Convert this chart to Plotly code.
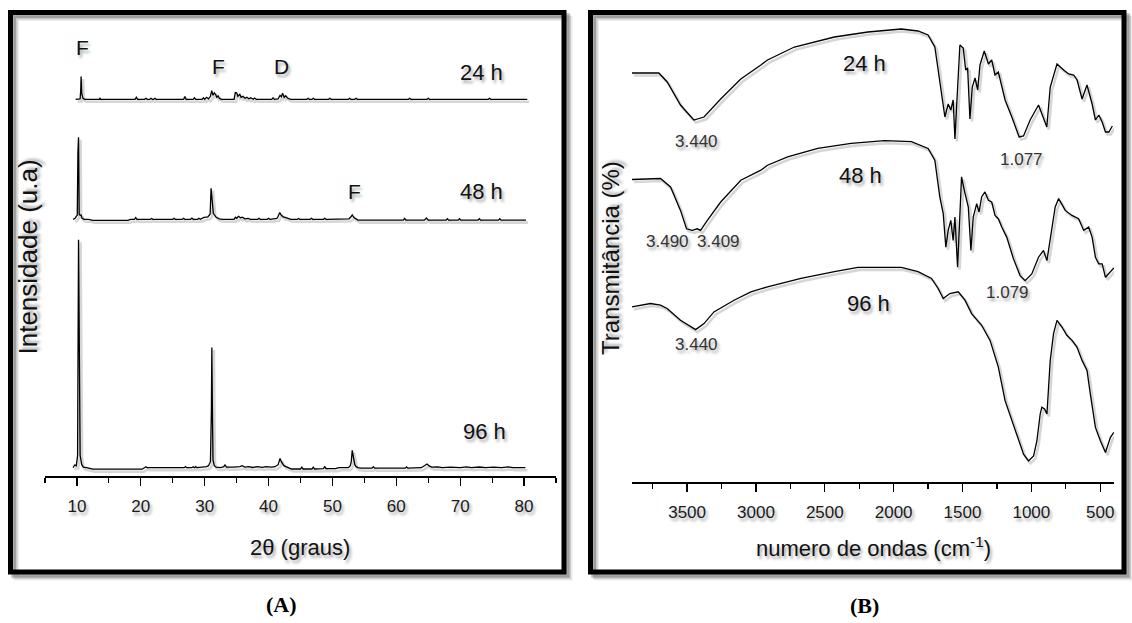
import plotly.graph_objects as go

W, H = 1132, 623

# ---------------- (A) XRD data: (2theta, intensity above baseline) ----------------
xrd_24h = [(9.8,0),(10.5,0.5),(10.6,10),(10.65,22.7),(10.75,6),(10.95,1),(11.2,0),
    (13.5,0),(13.6,1),(13.7,0),(19.1,0),(19.3,2),(19.5,0),
    (20.6,0),(20.8,1),(21.0,0),(21.4,0),(21.6,1),(21.8,0),(22.0,0),(22.2,1),(22.4,0),
    (26.7,0),(26.9,2.7),(27.1,0),(28.2,0),(28.4,1.5),(28.6,0),(29.6,0),(29.8,1.5),(30.0,0),(30.3,2),(30.6,0.5),
    (30.9,3),(31.1,8.6),(31.3,4),(31.5,6.5),(31.7,5),(31.9,2),(32.1,3.5),(32.3,1),(32.6,0),
    (34.6,0),(34.8,6.7),(35.0,6.5),(35.2,3),(35.5,5),(35.7,2),(36.0,3),(36.3,1),(36.6,2),(36.9,0.5),(37.2,1.5),(37.6,0),(37.8,1.2),(38.1,0),
    (40.5,0),(40.7,1.5),(40.9,0),(41.5,0.5),(41.8,4),(42.0,2.5),(42.2,6),(42.45,2),(42.7,3.5),(43.0,1),(43.5,0),
    (46.0,0),(46.2,1),(46.4,0),(46.8,0),(47.0,1),(47.2,0),(49.4,0),(49.6,1),(49.8,0),
    (52.5,0),(52.7,1),(52.9,0),(53.5,0),(53.7,1),(53.9,0),(61.9,0),(62.1,1),(62.3,0),
    (64.8,0),(65.0,1),(65.2,0),(74.4,0),(74.6,1),(74.8,0),(80.5,0)]

xrd_48h = [(9.4,0),(9.7,1),(9.9,3),(10.05,4),(10.15,66),(10.25,82),(10.35,5),(10.5,4),(10.65,4.3),(10.8,1),(11.1,0),(11.8,0),
    (12.5,-1),(18.0,-1),(18.4,0),(19.0,0),(19.2,1.7),(19.4,0),
    (21.5,0),(21.7,0.8),(21.9,0),(25.0,0),(25.2,1),(25.4,0),(26.5,0),(26.7,1),(26.9,0),(27.8,0),(28.0,1.2),(28.2,0),(28.9,0),(29.1,1),(29.3,0),
    (29.9,2),(30.5,2.5),(30.85,5),(31.0,31),(31.1,20),(31.2,17),(31.35,6),(31.6,3),(31.8,2),(32.3,0.5),(32.8,0),
    (34.6,0),(34.8,2),(35.0,1),(35.3,3),(35.6,1.5),(35.9,2.2),(36.3,0.5),(36.8,1),(37.2,0),
    (38.3,0),(38.5,1),(38.7,0),(39.8,0),(40.0,1),(40.2,0),
    (41.3,1),(41.5,3),(41.75,6.7),(42.0,4),(42.3,2.5),(42.6,2),(43.0,1),(43.5,0),
    (44.5,0),(44.7,0.8),(44.9,0),(46.5,0),(46.7,1),(46.9,0),(48.6,0),(48.8,1),(49.0,0),(50.4,0),(50.6,0.6),(50.8,0),
    (52.6,0.5),(52.9,2.5),(53.1,4.3),(53.4,1.5),(53.7,0),(54.0,-0.8),(61.1,-0.8),(61.3,1),(61.5,-0.8),
    (64.4,-0.8),(64.7,1.3),(65.0,-0.8),(67.8,-0.8),(68.0,0.6),(68.2,-0.8),(69.7,-0.8),(69.9,0.5),(70.1,-0.8),
    (72.8,-0.8),(73.0,0.6),(73.2,-0.8),(76.0,-0.8),(76.2,0.5),(76.4,-0.8),(80.3,-0.8)]

xrd_96h = [(9.4,0),(9.65,2.7),(9.9,2),(10.1,12),(10.25,228),(10.35,100),(10.5,12.7),(10.75,3),(11.0,0.5),(11.5,0),
    (12.5,-1.5),(20.2,-1.5),(20.6,0),(20.8,1),(21.0,0),(22.5,0),(22.7,0.7),(22.9,0),(24.0,0),(24.2,0.7),(24.4,0),
    (26.8,0),(27.0,1),(27.2,0),(28.0,0),(28.2,1),(28.4,0),(28.6,1),(28.8,0),
    (30.3,1),(30.6,2),(30.9,6),(31.05,57),(31.12,120.3),(31.2,62.7),(31.3,8),(31.5,2),(31.8,0.5),(32.5,0),
    (33.0,1),(33.2,3),(33.4,0.5),(34.5,0.5),(35.5,1),(35.9,2),(36.3,0.5),(36.9,1),(37.5,0.2),(38.3,1),(39.0,0.3),(39.6,1),(40.5,0.5),(41.0,1),
    (41.5,3),(41.8,9.3),(42.0,6),(42.4,2),(42.8,1),(43.2,0),(43.6,-1.3),(45.0,-1.3),(45.2,0.5),(45.4,-1.3),
    (46.8,-1.3),(47.0,0.6),(47.2,-1.3),(48.6,-1),(48.8,1),(49.0,-1),(50.5,-1),(51.0,0),(52.5,0),
    (52.8,2),(52.95,6),(53.1,17.3),(53.3,10),(53.5,3),(53.7,1),(54.0,0),(54.5,-0.5),(56.2,-0.5),(56.4,1),(56.6,-0.5),
    (61.4,-0.5),(61.6,0.7),(61.8,-0.5),(63.9,0),(64.4,2),(64.8,3.7),(65.2,1.5),(65.6,0.5),(66.5,0.8),(67.2,0),
    (68.5,0.5),(70.0,0),(71.0,0.8),(71.8,0),(73.0,0.7),(74.0,0),(75.2,0.5),(76.5,0),(77.5,0.8),(78.3,0),(80.2,0)]

# ---------------- (B) FTIR data: (wavenumber, transmittance a.u.) ----------------
ftir_24h = [(3900,159),(3705,159),(3644,150),(3548,127),(3451,112),(3377,115),(3256,133),(3110,153),(2964,167),
    (2916,172),(2721,185),(2430,195),(2187,200),(1944,203),(1823,201),(1750,197),(1701,185),(1677,162),(1640,128),
    (1628,115),(1604,128),(1585,122),(1568,132),(1555,93),(1543,125),(1519,187),(1495,184),(1477,162),(1463,164),
    (1446,113),(1429,145),(1409,154),(1390,142),(1373,167),(1342,181),(1312,168),(1288,172),(1264,157),(1240,160),
    (1191,132),(1142,115),(1089,95),(1057,96),(1009,112),(948,127),(924,118),(888,105),(863,145),(814,168),(766,162),
    (729,158),(693,157),(668,152),(632,133),(596,147),(559,128),(535,112),(510,117),(486,110),(462,100),(437,100),(412,106)]

ftir_48h = [(3900,182.5),(3693,183.5),(3620,175),(3548,151.6),(3504,133.2),(3462,131.6),(3426,133.2),(3402,131.6),
    (3353,141.6),(3256,160),(3110,181.8),(2964,191.8),(2916,196.8),(2770,205.2),(2551,213.6),(2309,218.6),(2066,221.3),
    (1871,220.3),(1750,213.6),(1701,201.9),(1665,165),(1640,148.3),(1621,114.8),(1604,131.6),(1585,141.6),(1568,121.5),
    (1555,145),(1536,94.7),(1524,131.6),(1507,185.1),(1487,171.7),(1470,160),(1458,155),(1439,111.5),(1422,145),
    (1397,158.3),(1380,150),(1361,165),(1337,170.1),(1312,161.7),(1288,160),(1264,146.6),(1240,143.3),(1215,134.9),
    (1179,124.9),(1130,103.1),(1082,86.4),(1045,81.3),(997,88),(948,104.8),(912,111.5),(887,101.4),(863,124.9),
    (827,155),(802,163.4),(754,151.6),(705,146.6),(657,143.3),(620,131.6),(584,134.9),(559,124.9),(535,104.8),
    (511,98.1),(486,98.1),(462,84.7),(438,88),(401,94.1)]

ftir_96h = [(3900,175.1),(3766,178.5),(3693,176.8),(3645,173.5),(3548,161.7),(3438,152.4),(3377,158.4),(3305,170.1),
    (3159,181.8),(3037,190.2),(2916,195.2),(2867,196.9),(2673,203.6),(2430,210.3),(2260,214.6),(1944,214.6),(1823,210.3),
    (1725,203.6),(1677,193.5),(1640,183.5),(1592,188.5),(1531,190.2),(1482,181.8),(1434,168.4),(1361,156.7),(1300,141.6),
    (1240,114.9),(1191,81.4),(1142,61.3),(1094,41.2),(1057,27.8),(1021,21.1),(984,26.1),(960,41.2),(936,68),(924,74.7),
    (904,73),(887,68),(863,121.6),(839,148.3),(814,161.7),(778,155),(742,146.7),(705,141.6),(669,135),(632,121.6),
    (596,111.5),(572,88.1),(535,54.6),(499,41.2),(462,29.5),(426,44.6),(401,49.6)]

xrd_ticks = [10, 20, 30, 40, 50, 60, 70, 80]
ftir_ticks = [3500, 3000, 2500, 2000, 1500, 1000, 500]
ftir_minor = [3750, 3250, 2750, 2250, 1750, 1250, 750]

# ---------------- layout helpers (pixel -> paper) ----------------
def fx(p):
    return p / W

def fy(p):
    return 1 - p / H

FONT = "Liberation Sans, Arial, sans-serif"
SHADOW = "2px 3px 3px rgba(0,0,0,0.35)"

xrd_offsets = {"24h": 376.7, "48h": 256.7, "96h": 8.3}
ftir_offsets = {"24h": 250, "48h": 120, "96h": 0}

# panel geometry (pixels)
A_X0, A_X1, A_YB, A_YT = 45, 556, 476, 20
B_X0, B_X1, B_YB, B_YT = 632, 1114, 482, 22
A_RANGE = (5, 85)
B_RANGE = (3900, 400)

# shadow offsets converted to data units
a_sx = 2.0 * (A_RANGE[1] - A_RANGE[0]) / (A_X1 - A_X0)
b_sx = 2.0 * (B_RANGE[1] - B_RANGE[0]) / (B_X1 - B_X0)

fig = go.Figure()

def add_series(series, off, xa, ya, sx, sy):
    xs = [p[0] for p in series]
    ys = [p[1] + off for p in series]
    fig.add_trace(go.Scatter(x=[v + sx for v in xs], y=[v - sy for v in ys], mode="lines", xaxis=xa, yaxis=ya,
                             line=dict(color="rgba(0,0,0,0.16)", width=2.6), showlegend=False, hoverinfo="skip"))
    fig.add_trace(go.Scatter(x=xs, y=ys, mode="lines", xaxis=xa, yaxis=ya,
                             line=dict(color="black", width=1.3), showlegend=False, hoverinfo="skip"))

for key, series in [("24h", xrd_24h), ("48h", xrd_48h), ("96h", xrd_96h)]:
    add_series(series, xrd_offsets[key], "x", "y", a_sx, 2.5)

for key, series in [("24h", ftir_24h), ("48h", ftir_48h), ("96h", ftir_96h)]:
    add_series(series, ftir_offsets[key], "x2", "y2", b_sx, 2.5)

tickfont = dict(family=FONT, size=17, color="#1a1a1a", shadow=SHADOW)

fig.update_layout(
    width=W, height=H, margin=dict(l=0, r=0, t=0, b=0),
    paper_bgcolor="white", plot_bgcolor="rgba(0,0,0,0)",
    showlegend=False,
    xaxis=dict(domain=[fx(A_X0), fx(A_X1)], range=list(A_RANGE), anchor="y",
               showline=True, linecolor="black", linewidth=1.5,
               ticks="outside", ticklen=8, tickwidth=1.2, tickcolor="black",
               tickmode="array", tickvals=xrd_ticks, tickfont=tickfont,
               ticklabelstandoff=6,
               minor=dict(ticks="outside", ticklen=5, tickwidth=1.2, tickcolor="black",
                          tickmode="linear", tick0=5, dtick=5),
               showgrid=False, zeroline=False),
    yaxis=dict(domain=[fy(A_YB), fy(A_YT)], range=[0, A_YB - A_YT], anchor="x", visible=False),
    xaxis2=dict(domain=[fx(B_X0), fx(B_X1)], range=list(B_RANGE), anchor="y2",
                showline=True, linecolor="black", linewidth=1.5,
                ticks="outside", ticklen=8, tickwidth=1.2, tickcolor="black",
                tickmode="array", tickvals=ftir_ticks, tickfont=tickfont,
                ticklabelstandoff=6,
                minor=dict(ticks="outside", ticklen=5, tickwidth=1.2, tickcolor="black",
                           tickmode="array", tickvals=ftir_minor),
                showgrid=False, zeroline=False),
    yaxis2=dict(domain=[fy(B_YB), fy(B_YT)], range=[0, B_YB - B_YT], anchor="x2", visible=False),
)

# frames with drop shadow
shapes = []
for (x0, y0, x1, y1) in [(10.5, 12.5, 564, 572), (590.5, 12.5, 1124, 572)]:
    for k, a in [(6, 0.08), (4.5, 0.14), (3, 0.22)]:
        shapes.append(dict(type="rect", xref="paper", yref="paper",
                           x0=fx(x0 + k), x1=fx(x1 + k), y0=fy(y0 + k), y1=fy(y1 + k),
                           line=dict(color=f"rgba(0,0,0,{a})", width=5), fillcolor="rgba(0,0,0,0)", layer="below"))
    shapes.append(dict(type="rect", xref="paper", yref="paper",
                       x0=fx(x0), x1=fx(x1), y0=fy(y0), y1=fy(y1),
                       line=dict(color="black", width=5), fillcolor="rgba(0,0,0,0)", layer="above"))
fig.update_layout(shapes=shapes)

def label(text, x, y, size=21, color="#111111", angle=0, family=FONT, shadow=SHADOW):
    fig.add_annotation(text=text, x=fx(x), y=fy(y), xref="paper", yref="paper",
                       showarrow=False, textangle=angle, xanchor="center", yanchor="middle",
                       font=dict(family=family, size=size, color=color, shadow=shadow))

# panel A labels
label("F", 83, 48)
label("F", 219, 67)
label("D", 281, 67)
label("24 h", 482, 72, size=22)
label("F", 354, 191)
label("48 h", 482, 192, size=22)
label("96 h", 484, 432, size=22)
label("Intensidade (u.a)", 27.5, 257, size=26, angle=-90)
label("2θ (graus)", 300, 547, size=22)
label("<b>(A)</b>", 281, 604, size=22, color="black", family="Liberation Serif, Times New Roman, serif", shadow="none")

# panel B labels
label("24 h", 864, 63, size=22)
label("48 h", 860, 175, size=22)
label("96 h", 868, 303, size=22)
label("3.440", 696, 141, size=17, color="#333333")
label("1.077", 1021, 160, size=17, color="#333333")
label("3.490", 667, 241, size=17, color="#333333")
label("3.409", 718, 241, size=17, color="#333333")
label("1.079", 1007, 293, size=17, color="#333333")
label("3.440", 696, 344, size=17, color="#333333")
label("Transmitância (%)", 610, 258, size=24, angle=-90)
label("numero de ondas (cm<sup>-1</sup>)", 873, 547, size=22)
label("<b>(B)</b>", 864, 605, size=22, color="black", family="Liberation Serif, Times New Roman, serif", shadow="none")

fig.write_html("out.html",
               config={"displayModeBar": False, "staticPlot": True},
               post_script="document.body.style.margin='0';document.body.style.overflow='hidden';")
